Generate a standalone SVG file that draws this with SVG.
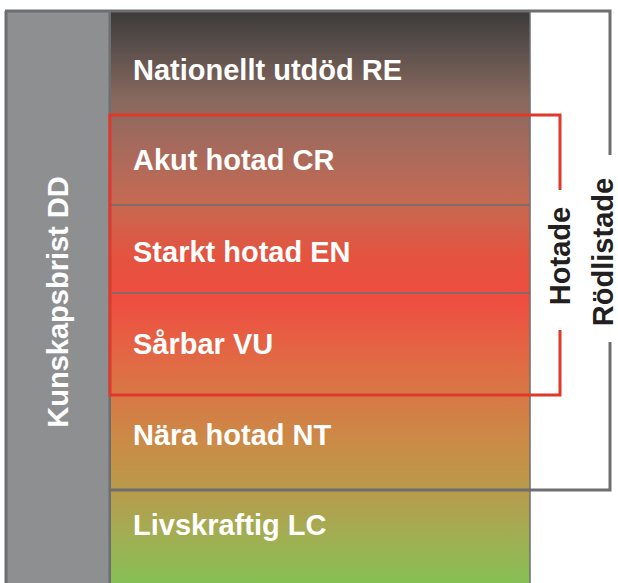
<svg xmlns="http://www.w3.org/2000/svg" width="618" height="583" viewBox="0 0 618 583">
<defs>
<linearGradient id="g" gradientUnits="userSpaceOnUse" x1="0" y1="12" x2="0" y2="583">
<stop offset="0" stop-color="#3d3a39"/>
<stop offset="0.05" stop-color="#544c49"/>
<stop offset="0.155" stop-color="#89695e"/>
<stop offset="0.24" stop-color="#a76a5c"/>
<stop offset="0.33" stop-color="#c56a52"/>
<stop offset="0.43" stop-color="#e5533f"/>
<stop offset="0.5" stop-color="#ef4c40"/>
<stop offset="0.59" stop-color="#e46444"/>
<stop offset="0.68" stop-color="#d67a45"/>
<stop offset="0.76" stop-color="#ca8c47"/>
<stop offset="0.84" stop-color="#b89a4b"/>
<stop offset="0.9" stop-color="#a7aa52"/>
<stop offset="1" stop-color="#86c053"/>
</linearGradient>
</defs>
<style>
.row{fill:url(#g)}
.lbl{font-family:"Liberation Sans",Arial,sans-serif;font-weight:bold;font-size:29px;fill:#ffffff}
.side{font-family:"Liberation Sans",Arial,sans-serif;font-weight:bold;font-size:29px;fill:#231f20}
.div{stroke:#6d6e70;stroke-width:1.5;fill:none}
.frame{stroke:#6d6e70;stroke-width:3;fill:none}
.red{stroke:#e0382a;stroke-width:3;fill:none}
</style>
<g id="dd">
<rect x="6" y="11" width="104" height="572" fill="#8e8f91"/>
<line x1="6" y1="11" x2="6" y2="583" class="frame"/>
<line x1="110" y1="11" x2="110" y2="583" class="frame"/>
<text class="lbl" transform="translate(68,302) rotate(-90)" text-anchor="middle">Kunskapsbrist DD</text>
</g>
<g id="re"><rect class="row" x="111" y="12" width="419" height="103"/><text class="lbl" x="133" y="80">Nationellt utdöd RE</text></g>
<g id="cr"><rect class="row" x="111" y="115" width="419" height="90"/><text class="lbl" x="133" y="170">Akut hotad CR</text></g>
<g id="en"><rect class="row" x="111" y="205" width="419" height="88"/><text class="lbl" x="133" y="262">Starkt hotad EN</text></g>
<g id="vu"><rect class="row" x="111" y="293" width="419" height="102"/><text class="lbl" x="133" y="354">Sårbar VU</text></g>
<g id="nt"><rect class="row" x="111" y="395" width="419" height="95"/><text class="lbl" x="133" y="445">Nära hotad NT</text></g>
<g id="lc"><rect class="row" x="111" y="490" width="419" height="93"/><text class="lbl" x="133" y="535">Livskraftig LC</text></g>
<g id="connectors">
<line class="div" x1="111" y1="205" x2="530" y2="205"/>
<line class="div" x1="111" y1="293" x2="530" y2="293"/>
<line class="div" x1="530" y1="11" x2="530" y2="583"/>
<path class="frame" d="M5,11 H610 V155 M610,342 V490 H110"/>
<path class="red" d="M560,190 V115 H110 V395 H560 V330"/>
</g>
<g id="hotade"><text class="side" transform="translate(570,256) rotate(-90)" text-anchor="middle">Hotade</text></g>
<g id="rodlistade"><text class="side" transform="translate(613,252) rotate(-90)" text-anchor="middle">Rödlistade</text></g>
</svg>
